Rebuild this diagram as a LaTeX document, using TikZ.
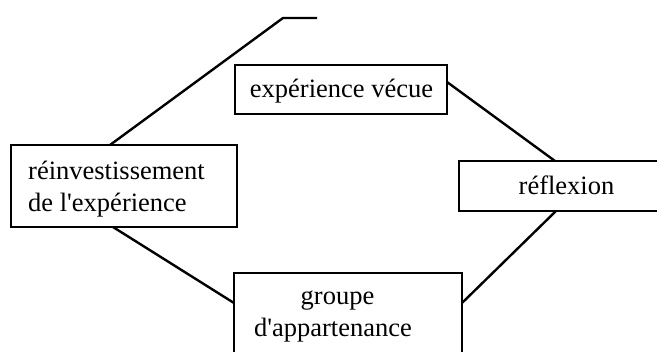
\documentclass[tikz,border=0pt]{standalone}
\usepackage{fontspec}
\setmainfont{Liberation Serif}
\usetikzlibrary{calc}

\tikzset{
  box/.style={draw, line width=2.4pt, inner sep=0pt, outer sep=0pt},
  label/.style={inner sep=0pt, font=\fontsize{26.5}{31.5}\selectfont},
  link/.style={line width=2.4pt}
}

\begin{document}
\begin{tikzpicture}[x=1pt, y=-1pt]
  \useasboundingbox (0,0) rectangle (657,352);
  \clip (0,0) rectangle (657,352);

  % boxes
  \node[box, minimum width=212pt, minimum height=49pt] (exp)  at (341,89.5) {};
  \node[box, minimum width=240pt, minimum height=50pt] (refl) at (579,186) {};
  \node[box, minimum width=226pt, minimum height=82pt] (rein) at (124,186) {};
  \node[box, minimum width=228pt, minimum height=107pt] (grp) at (348,326.5) {};

  % texts
  \node[label, anchor=base] (expT) at (341.5,98) {expérience vécue};
  \node[label, anchor=base] (reflT) at (566.5,195) {réflexion};
  \node[label, anchor=base west] (reinA) at (28,180) {réinvestissement};
  \node[label, anchor=base west] (reinB) at (28,212) {de l\textquotesingle expérience};
  \node[label, anchor=base] (grpA) at (337.5,305) {groupe};
  \node[label, anchor=base] (grpB) at (333,337) {d\textquotesingle appartenance};

  % free end of the upper line
  \coordinate (bend) at (283,18);
  \coordinate (tail) at (317,18);

  % connectors
  \draw[link] ([xshift=99pt]rein.north west) -- (bend) -- (tail);
  \draw[link] ($(exp.north east)!0.347!(exp.south east)$) -- ([xshift=96pt]refl.north west);
  \draw[link] ([xshift=97pt]refl.south west) -- ([yshift=-30pt]grp.north east);
  \draw[link] ([xshift=102pt]rein.south west) -- ([yshift=-30pt]grp.north west);
\end{tikzpicture}
\end{document}
